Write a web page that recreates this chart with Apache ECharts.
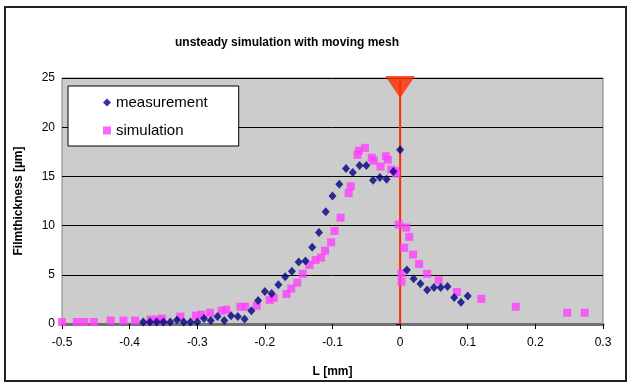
<!DOCTYPE html>
<html>
<head>
<meta charset="utf-8">
<script src="https://cdn.jsdelivr.net/npm/echarts@6/dist/echarts.min.js"></script>
<style>
  html, body { margin: 0; padding: 0; background: #fff; }
  #chart { width: 629px; height: 383px; }
</style>
</head>
<body>
<div id="chart"></div>
<script>
// measurement (blue diamonds)
const measX = [-0.38, -0.37, -0.36, -0.35, -0.34, -0.33, -0.32, -0.31, -0.30, -0.29,
  -0.28, -0.27, -0.26, -0.25, -0.24, -0.23, -0.22, -0.21, -0.20, -0.19,
  -0.18, -0.17, -0.16, -0.15, -0.14, -0.13, -0.12, -0.11, -0.10, -0.09,
  -0.08, -0.07, -0.06, -0.05, -0.04, -0.03, -0.02, -0.01, 0.00, 0.01,
  0.02, 0.03, 0.04, 0.05, 0.06, 0.07, 0.08, 0.09, 0.10];
const measY = [0.2, 0.2, 0.2, 0.2, 0.2, 0.4, 0.2, 0.2, 0.2, 0.55,
  0.35, 0.75, 0.35, 0.85, 0.75, 0.5, 1.35, 2.4, 3.3, 3.1,
  4.0, 4.8, 5.35, 6.3, 6.4, 7.8, 9.3, 11.4, 13.0, 14.2,
  15.8, 15.4, 16.1, 16.1, 14.6, 14.9, 14.7, 15.5, 17.7, 5.5,
  4.6, 4.1, 3.45, 3.7, 3.7, 3.8, 2.7, 2.2, 2.85];

// simulation (pink squares)
const simX = [-0.5, -0.478, -0.467, -0.453, -0.428, -0.409, -0.392, -0.369, -0.359, -0.352,
  -0.325, -0.302, -0.294, -0.281, -0.264, -0.257, -0.236, -0.229, -0.212, -0.193,
  -0.187, -0.168, -0.161, -0.152, -0.144, -0.134, -0.125, -0.117, -0.111, -0.102,
  -0.097, -0.088, -0.076, -0.073, -0.063, -0.061, -0.052, -0.042, -0.039, -0.029,
  -0.021, -0.018, -0.013, -0.007, -0.006, -0.002, 0.009, 0.002, 0.002, 0.006,
  0.0135, 0.019, 0.028, 0.040, 0.057, 0.084, 0.120, 0.171, 0.247, 0.273];
const simY = [0.2, 0.2, 0.2, 0.2, 0.35, 0.35, 0.35, 0.45, 0.45, 0.55,
  0.75, 0.85, 0.95, 1.15, 1.35, 1.45, 1.75, 1.75, 1.85, 2.45,
  2.65, 3.05, 3.6, 4.2, 5.1, 6.0, 6.5, 6.75, 7.45, 8.3,
  9.45, 10.8, 13.3, 14.0, 17.2, 17.6, 17.9, 16.9, 16.6, 16.0,
  17.05, 16.7, 15.7, 15.55, 15.3, 10.1, 9.8, 5.15, 4.3, 7.75,
  8.85, 7.05, 6.1, 5.1, 4.45, 3.25, 2.55, 1.75, 1.15, 1.15];

// marker line at L = 0
const markX = 0;
const markY = [0, 25];

const font = '"Liberation Sans", Arial, sans-serif';

const chart = echarts.init(document.getElementById('chart'), null, { renderer: 'canvas' });

chart.setOption({
  animation: false,
  backgroundColor: '#fff',
  title: {
    text: 'unsteady simulation with moving mesh',
    left: 170,
    top: 32,
    textStyle: { fontFamily: font, fontSize: 12, fontWeight: 'bold', color: '#000' }
  },
  graphic: [{
    type: 'rect',
    shape: { x: 5, y: 7, width: 621, height: 374 },
    style: { fill: 'none', stroke: '#222', lineWidth: 2 },
    silent: true
  }],
  legend: {
    orient: 'vertical',
    left: 68,
    top: 86,
    padding: [9, 31, 8, 35],
    itemGap: 13,
    itemWidth: 8,
    itemHeight: 8,
    backgroundColor: '#fff',
    borderColor: '#000',
    borderWidth: 1,
    textStyle: { fontFamily: font, fontSize: 15, color: '#000', lineHeight: 15 },
    data: [
      { name: 'measurement', icon: 'diamond' },
      { name: 'simulation', icon: 'rect' }
    ]
  },
  grid: {
    left: 62,
    right: 26,
    top: 78,
    bottom: 59,
    show: true,
    backgroundColor: '#cccccc',
    borderColor: '#808080',
    borderWidth: 1
  },
  xAxis: {
    type: 'value',
    min: -0.5,
    max: 0.3,
    interval: 0.1,
    name: 'L [mm]',
    nameLocation: 'middle',
    nameGap: 42,
    nameTextStyle: { fontFamily: font, fontSize: 12, fontWeight: 'bold', color: '#000' },
    axisLine: { show: true, onZero: false, lineStyle: { color: '#707070', width: 3 } },
    axisTick: { show: true, length: 5, lineStyle: { color: '#000' } },
    axisLabel: {
      fontFamily: font, fontSize: 12, color: '#000', margin: 13,
      formatter: v => String(+v.toFixed(1))
    },
    splitLine: { show: false }
  },
  yAxis: {
    type: 'value',
    min: 0,
    max: 25,
    interval: 5,
    name: 'Filmthickness [\u00b5m]',
    nameLocation: 'middle',
    nameGap: 37,
    nameTextStyle: { fontFamily: font, fontSize: 12, fontWeight: 'bold', color: '#000' },
    axisLine: { show: true, lineStyle: { color: '#000', width: 1 } },
    axisTick: { show: true, length: 4, lineStyle: { color: '#000' } },
    axisLabel: { fontFamily: font, fontSize: 12, color: '#000', margin: 7 },
    splitLine: { show: true, lineStyle: { color: '#000', width: 1 } }
  },
  series: [
    {
      name: 'marker',
      type: 'line',
      data: markY.map(y => [markX, y]),
      symbol: 'none',
      lineStyle: { color: '#ff2a00', width: 2 },
      z: 1,
      silent: true
    },
    {
      name: 'measurement',
      type: 'scatter',
      data: measX.map((x, i) => [x, measY[i]]),
      symbol: 'diamond',
      symbolSize: [8, 9],
      itemStyle: { color: '#000080' },
      z: 3
    },
    {
      name: 'simulation',
      type: 'scatter',
      data: simX.map((x, i) => [x, simY[i]]),
      symbol: 'rect',
      symbolSize: 8,
      itemStyle: { color: '#ff40ff' },
      z: 2
    },
    {
      name: 'triangle',
      type: 'scatter',
      data: [[markX, markY[1]]],
      symbol: 'triangle',
      symbolRotate: 180,
      symbolSize: [30, 22],
      symbolOffset: [0, 9],
      itemStyle: { color: '#ff2a00' },
      z: 4,
      silent: true
    }
  ]
});
</script>
</body>
</html>
